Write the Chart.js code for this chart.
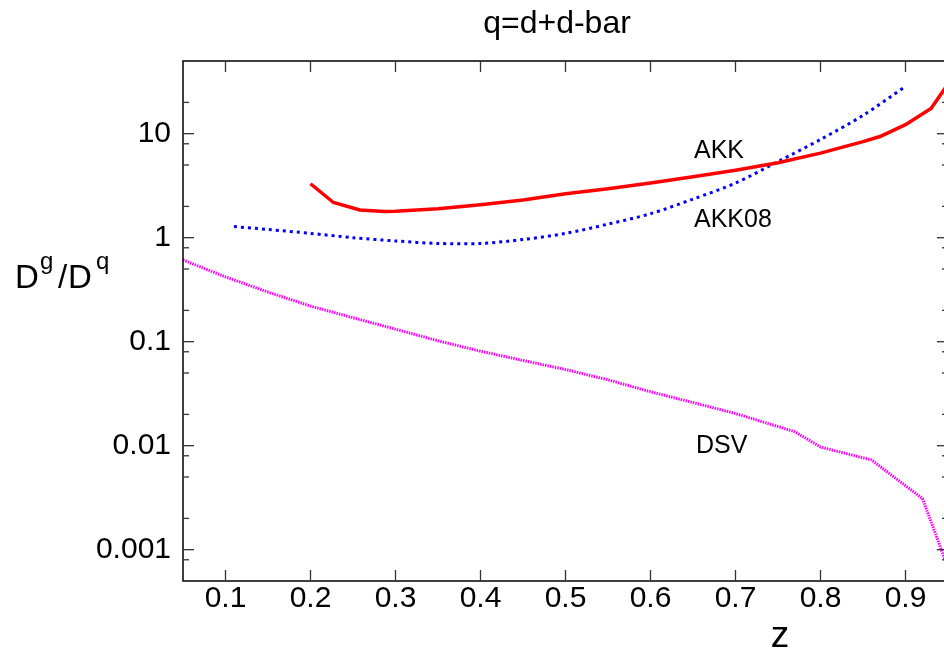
<!DOCTYPE html>
<html>
<head>
<meta charset="utf-8">
<script src="https://cdn.jsdelivr.net/npm/chart.js@4.4.0/dist/chart.umd.min.js"></script>
<style>
html, body { margin: 0; padding: 0; background: #fff; overflow: hidden; }
</style>
</head>
<body>
<canvas id="grafico" width="952" height="652"></canvas>
<script>
// valores
const zAKK = [0.20, 0.227, 0.258, 0.287, 0.30, 0.35, 0.40, 0.45, 0.50, 0.55, 0.60, 0.65, 0.70, 0.75, 0.80, 0.85, 0.87, 0.90, 0.93, 0.95];
const akk = [3.3, 2.18, 1.85, 1.79, 1.8, 1.9, 2.07, 2.3, 2.65, 2.95, 3.35, 3.85, 4.45, 5.25, 6.5, 8.4, 9.4, 12.2, 17.5, 30];

const zAKK08 = [0.11, 0.15, 0.20, 0.25, 0.30, 0.35, 0.40, 0.45, 0.50, 0.55, 0.60, 0.65, 0.70, 0.75, 0.80, 0.85, 0.90];
const akk08 = [1.28, 1.2, 1.1, 1.0, 0.93, 0.88, 0.88, 0.96, 1.1, 1.35, 1.7, 2.35, 3.35, 5.4, 8.8, 15, 28.5];

const zDSV = [0.05, 0.10, 0.15, 0.20, 0.25, 0.30, 0.35, 0.40, 0.45, 0.50, 0.55, 0.60, 0.65, 0.70, 0.77, 0.80, 0.86, 0.92, 0.95];
const dsv = [0.61, 0.42, 0.30, 0.22, 0.17, 0.132, 0.102, 0.081, 0.066, 0.054, 0.043, 0.033, 0.026, 0.0204, 0.0136, 0.0097, 0.0073, 0.0031, 0.00067];

const xTicks = [0.1, 0.2, 0.3, 0.4, 0.5, 0.6, 0.7, 0.8, 0.9];
const yTicks = [0.001, 0.01, 0.1, 1, 10];
const yMinor = [0.0008, 0.002, 0.005, 0.008, 0.02, 0.05, 0.08, 0.2, 0.5, 0.8, 2, 5, 8, 20];

const fonte = 'Liberation Sans, Arial, sans-serif';

function pares(xs, ys) {
    return xs.map((v, i) => ({ x: v, y: ys[i] }));
}

const moldura = {
    id: 'moldura',
    afterDraw(chart) {
        const { ctx, chartArea: a, scales: { x, y } } = chart;
        ctx.save();
        ctx.strokeStyle = '#000';
        ctx.lineWidth = 1.5;
        ctx.strokeRect(a.left, a.top, a.right - a.left, a.bottom - a.top);

        function linha(x1, y1, x2, y2) {
            ctx.beginPath();
            ctx.moveTo(x1, y1);
            ctx.lineTo(x2, y2);
            ctx.stroke();
        }
        ctx.strokeStyle = '#333';
        ctx.lineWidth = 1.3;
        xTicks.forEach(v => {
            const px = x.getPixelForValue(v);
            linha(px, a.bottom, px, a.bottom - 11);
            linha(px, a.top, px, a.top + 11);
        });
        yTicks.forEach(v => {
            const py = y.getPixelForValue(v);
            linha(a.left, py, a.left + 11, py);
            linha(a.right, py, a.right - 11, py);
        });
        yMinor.forEach(v => {
            const py = y.getPixelForValue(v);
            linha(a.left, py, a.left + 6, py);
            linha(a.right, py, a.right - 6, py);
        });

        ctx.fillStyle = '#000';
        ctx.textBaseline = 'alphabetic';
        ctx.textAlign = 'center';
        ctx.font = '32px ' + fonte;
        ctx.fillText('q=d+d-bar', 557, 33);
        ctx.font = '37px ' + fonte;
        ctx.fillText('z', 780, 647);

        ctx.textAlign = 'left';
        ctx.font = '33px ' + fonte;
        ctx.fillText('D', 15, 288);
        ctx.fillText('/', 58, 288);
        ctx.fillText('D', 68, 288);
        ctx.font = '24px ' + fonte;
        ctx.fillText('g', 40, 269);
        ctx.fillText('q', 96, 269);

        ctx.font = '25px ' + fonte;
        ctx.fillText('AKK', 694, 158);
        ctx.fillText('AKK08', 694, 227);
        ctx.fillText('DSV', 696, 453);
        ctx.restore();
    }
};

const grafico = document.getElementById('grafico');

new Chart(grafico, {
    type: 'scatter',
    data: {
        datasets: [{
            label: 'AKK',
            data: pares(zAKK, akk),
            showLine: true,
            borderColor: '#ff0000',
            borderWidth: 3.5,
            pointRadius: 0
        },
        {
            label: 'AKK08',
            data: pares(zAKK08, akk08),
            showLine: true,
            borderColor: '#0000ff',
            borderWidth: 3,
            borderDash: [3, 4],
            tension: 0.3,
            pointRadius: 0
        },
        {
            label: 'DSV',
            data: pares(zDSV, dsv),
            showLine: true,
            borderColor: '#ff00ff',
            borderWidth: 3,
            borderDash: [1.5, 1],
            pointRadius: 0
        }]
    },
    options: {
        responsive: false,
        animation: false,
        layout: { padding: { left: 0, top: 61, right: 4, bottom: 0 } },
        plugins: {
            legend: { display: false },
            tooltip: { enabled: false }
        },
        scales: {
            x: {
                type: 'linear',
                min: 0.05,
                max: 0.95,
                grid: { display: false },
                border: { display: false },
                afterBuildTicks: s => { s.ticks = xTicks.map(v => ({ value: v })); },
                afterFit: s => { s.height = 71; },
                ticks: {
                    padding: -8,
                    color: '#000',
                    font: { family: fonte, size: 30 },
                    callback: v => String(v)
                }
            },
            y: {
                type: 'logarithmic',
                min: 0.0005,
                max: 50,
                grid: { display: false },
                border: { display: false },
                afterBuildTicks: s => { s.ticks = yTicks.map(v => ({ value: v })); },
                afterFit: s => { s.width = 183; },
                ticks: {
                    padding: 4,
                    color: '#000',
                    font: { family: fonte, size: 30 },
                    callback: v => String(v)
                }
            }
        }
    },
    plugins: [moldura]
});
</script>
</body>
</html>
